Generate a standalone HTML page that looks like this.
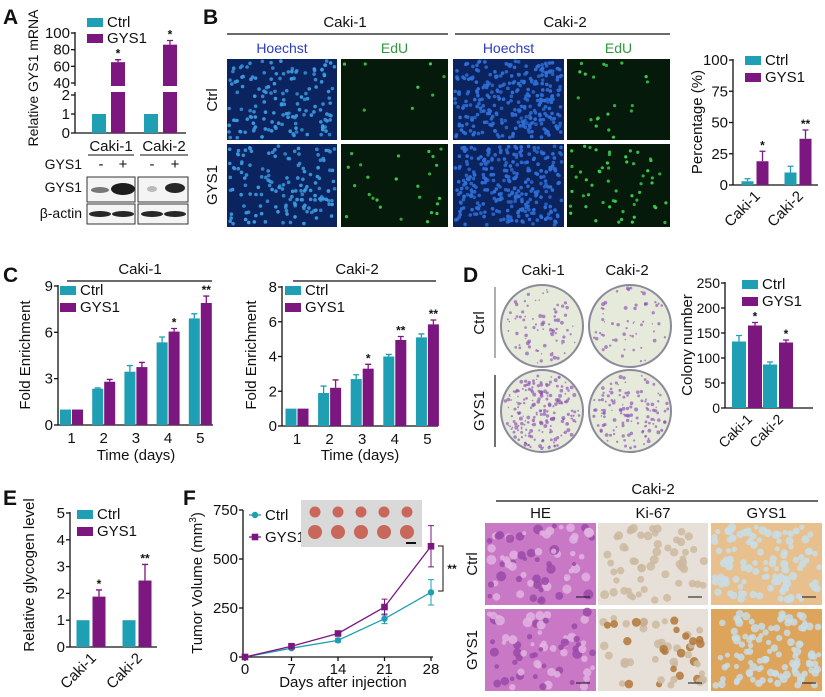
<!DOCTYPE html>
<html><head><meta charset="utf-8"><style>
html,body{margin:0;padding:0;background:#fff;}
svg{display:block;font-family:"Liberation Sans",Arial,sans-serif;}
text{fill:#111;}
</style></head><body>
<svg id="fig" width="825" height="697" viewBox="0 0 825 697" xmlns="http://www.w3.org/2000/svg">
<rect width="825" height="697" fill="#fff"/>
<g font-weight="bold" font-size="21">
<text x="3" y="24">A</text>
<text x="203" y="24">B</text>
<text x="3" y="282">C</text>
<text x="463" y="282">D</text>
<text x="3" y="505">E</text>
<text x="183" y="505">F</text>
</g>
<g id="layer"></g>
</svg>
<script>
// ---------- DATA ----------
const groupsAB = ['Caki-1','Caki-2'];
const aCtrl = [1, 1];
const aGys = [65, 86];
const aGysErr = [3, 5];
const aStars = ['*','*'];

const bCtrl = [3, 10];
const bGys = [19, 37];
const bCtrlErr = [2, 5];
const bGysErr = [8, 7];
const bStars = ['*','**'];
const bTicks = [0, 25, 50, 75, 100];

const cDays = ['1','2','3','4','5'];
const c1Ctrl = [1, 2.35, 3.45, 5.35, 6.9];
const c1Gys = [1, 2.8, 3.75, 6.05, 7.9];
const c1CtrlErr = [0, 0.05, 0.4, 0.35, 0.3];
const c1GysErr = [0, 0.15, 0.3, 0.2, 0.45];
const c1Stars = ['','','','*','**'];
const c1Ticks = [0, 3, 6, 9];

const c2Ctrl = [1, 1.9, 2.7, 4.0, 5.1];
const c2Gys = [1, 2.2, 3.3, 4.95, 5.85];
const c2CtrlErr = [0, 0.4, 0.25, 0.12, 0.2];
const c2GysErr = [0, 0.45, 0.25, 0.2, 0.25];
const c2Stars = ['','','*','**','**'];
const c2Ticks = [0, 2, 4, 6, 8];

const dCtrl = [133, 87];
const dGys = [165, 131];
const dCtrlErr = [12, 5];
const dGysErr = [6, 5];
const dStars = ['*','*'];
const dTicks = [0, 50, 100, 150, 200, 250];

const eCtrl = [1, 1];
const eGys = [1.88, 2.48];
const eCtrlErr = [0, 0];
const eGysErr = [0.25, 0.6];
const eStars = ['*','**'];
const eTicks = [0, 1, 2, 3, 4, 5];

const fDays = [0, 7, 14, 21, 28];
const fCtrl = [0, 45, 85, 195, 330];
const fGys = [0, 55, 120, 255, 565];
const fCtrlErr = [0, 5, 10, 25, 65];
const fGysErr = [0, 5, 8, 40, 105];
const fTicks = [0, 250, 500, 750];

// ---------- HELPERS ----------
const TEAL = '#1e9fb3', PURPLE = '#7c1780';
const NS = 'http://www.w3.org/2000/svg';
const layer = document.getElementById('layer');
function mk(tag, attrs, parent) {
  const el = document.createElementNS(NS, tag);
  for (const k in attrs) el.setAttribute(k, attrs[k]);
  (parent || layer).appendChild(el);
  return el;
}
function txt(x, y, s, size, anchor, parent, extra) {
  const el = mk('text', Object.assign({x: x, y: y, 'font-size': size, 'text-anchor': anchor || 'middle'}, extra || {}), parent);
  el.textContent = s;
  return el;
}
let seed = 7;
function rnd() { seed = (seed * 16807) % 2147483647; return seed / 2147483647; }

function yAxis(ax, yFn, ticks, y0, y1, size) {
  const l = mk('line', {x1: ax, y1: y0, x2: ax, y2: y1, stroke: '#111', 'stroke-width': 1.3});
  
  
  ticks.forEach(t => {
    const y = yFn(t);
    const tk = mk('line', {x1: ax - 4, y1: y, x2: ax, y2: y, stroke: '#111', 'stroke-width': 1.3});
    
    
    const lb = txt(ax - 5, y + 5, String(t), size || 15, 'end');
    
    
  });
}
function bar(x, w, yTop, yBase, color, err, yErr, name) {
  const r = mk('rect', {x: x, y: yTop, width: w, height: yBase - yTop, fill: color});
  
  
  if (err > 0) {
    const cx = x + w / 2;
    const e = mk('path', {d: `M${cx},${yTop}V${yErr}M${cx - 3},${yErr}H${cx + 3}`, stroke: color, 'stroke-width': 1.3, fill: 'none'});
    
    
  }
}
function star(x, y, s) {
  if (!s) return;
  const t = txt(x, y, s, 12, 'middle', null, {'font-weight': 'bold'});
  
  
}
function legend(x, y, gap, size) {
  const r1 = mk('rect', {x: x, y: y - 7, width: 16, height: 9, fill: TEAL});
  
  
  const t1 = txt(x + 20, y + 2, 'Ctrl', size || 15, 'start');
  
  
  const r2 = mk('rect', {x: x, y: y + gap - 7, width: 16, height: 9, fill: PURPLE});
  
  
  const t2 = txt(x + 20, y + gap + 2, 'GYS1', size || 15, 'start');
  
  
}
function vlabel(x, y, s, size) {
  const t = txt(x, y, s, size || 15, 'middle', null, {transform: `rotate(-90 ${x} ${y})`});
  
  
  return t;
}
function rotLabel(x, y, s, size) {
  const t = txt(x, y, s, size || 15, 'end', null, {transform: `rotate(-45 ${x} ${y})`});
  
  
}
function hline(x1, x2, y, w) {
  const l = mk('line', {x1: x1, y1: y, x2: x2, y2: y, stroke: '#111', 'stroke-width': w || 1.3});
  
  
  return l;
}

function groupedBars(o) {
  const yFn = v => o.base - v / o.vmax * (o.base - o.top);
  yAxis(o.ax, yFn, o.ticks, o.base, o.top - 1, o.fs);
  hline(o.ax, o.axEnd, o.base);
  o.ctrl.forEach((v, i) => {
    const cx = o.x0 + i * o.step;
    bar(cx - o.g / 2 - o.w, o.w, yFn(v), o.base, TEAL, o.ctrlErr[i], yFn(v + o.ctrlErr[i]), 'bar-ctrl-' + i);
    const g = o.gys[i];
    bar(cx + o.g / 2, o.w, yFn(g), o.base, PURPLE, o.gysErr[i], yFn(g + o.gysErr[i]), 'bar-gys1-' + i);
    star(cx + o.g / 2 + o.w / 2, yFn(g + o.gysErr[i]) - 2, o.stars[i]);
    if (o.labels) {
      if (o.rot) rotLabel(cx + 6, o.base + 12, o.labels[i], o.fs);
      else {
        const t = txt(cx, o.base + 18, o.labels[i], o.fs || 15);
        
        
      }
    }
  });
  return yFn;
}

// ---------- PANEL A ----------
(function () {
  const base = 133;
  const yA = v => v <= 2 ? base - v * 19 : 83 - (v - 40) * (50 / 60);
  yAxis(75, yA, [0, 1, 2, 40, 60, 80, 100], base, 32, 15);
  hline(75, 186, base);
  const centers = [109, 161];
  aCtrl.forEach((v, i) => {
    const cx = centers[i];
    bar(cx - 17, 14, yA(v), base, TEAL, 0, 0, 'bar-ctrl-' + i);
    bar(cx + 2, 14, yA(aGys[i]), base, PURPLE, aGysErr[i], yA(aGys[i] + aGysErr[i]), 'bar-gys1-' + i);
    star(cx + 9, yA(aGys[i] + aGysErr[i]) - 2, aStars[i]);
  });
  const gap = mk('rect', {x: 74, y: 86, width: 112, height: 6, fill: '#fff'});
  
  
  legend(87, 25, 16, 15);
  vlabel(38, 78, 'Relative GYS1 mRNA', 14);
  const cl1 = txt(111, 151, 'Caki-1', 15);  
  const cl2 = txt(164, 151, 'Caki-2', 15);  
  hline(88, 134, 155, 1); hline(140, 188, 155, 1);
  const g1 = txt(82, 169, 'GYS1', 14, 'end');  
  ['-', '+', '-', '+'].forEach((s, i) => {
    const t = txt([101, 123, 152, 175][i], 169, s, 15);
    
    
  });
  const rl1 = txt(82, 192, 'GYS1', 14, 'end');  
  const rl2 = txt(82, 218, 'β-actin', 14, 'end');  
  const boxes = [[87, 177, 48, 25], [138, 177, 50, 25], [87, 204, 48, 20], [138, 204, 50, 20]];
  boxes.forEach(b => {
    const r = mk('rect', {x: b[0], y: b[1], width: b[2], height: b[3], fill: '#f4f4f4', stroke: '#333', 'stroke-width': 1});
    
    
  });
  const bands = [[100, 190, 9, 3, 0.55], [123, 189, 12, 6, 0.95], [152, 189, 5, 3, 0.25], [175, 188, 10, 5, 0.9],
                 [100, 214, 11, 3, 0.9], [123, 214, 11, 3, 0.9], [152, 214, 11, 3, 0.9], [175, 214, 11, 3, 0.9]];
  bands.forEach(b => {
    const e = mk('ellipse', {cx: b[0], cy: b[1], rx: b[2], ry: b[3], fill: '#111', opacity: b[4]});
    
    
  });
})();

// ---------- PANEL B ----------
(function () {
  const heads = [[345, 27, 'Caki-1'], [565, 27, 'Caki-2']];
  heads.forEach(h => { const t = txt(h[0], h[1], h[2], 15);   });
  hline(227, 448, 34, 1.2); hline(455, 670, 34, 1.2);
  const cols = [[227, 110, 'Hoechst'], [341, 107, 'EdU'], [453, 111, 'Hoechst'], [567, 103, 'EdU']];
  const rows = [[59, 81], [144, 83]];
  cols.forEach((c, ci) => {
    const isH = c[2] === 'Hoechst';
    const t = txt(c[0] + c[1] / 2, 53, c[2], 14, 'middle', null, {style: 'fill:' + (isH ? '#2a3cc0' : '#2f9a3a')});
    
    
    rows.forEach((r, ri) => {
      const bg = mk('rect', {x: c[0], y: r[0], width: c[1], height: r[1], fill: isH ? '#0b2460' : '#061a0c'});
      
      
      const n = isH ? (ci === 2 ? 300 : 150) : (ri === 0 ? (ci === 1 ? 8 : 20) : (ci === 1 ? 25 : 55));
      for (let k = 0; k < n; k++) {
        const d = mk('circle', {cx: c[0] + 2 + rnd() * (c[1] - 4), cy: r[0] + 2 + rnd() * (r[1] - 4), r: isH ? 1.8 : 1.6,
          fill: isH ? (ci === 2 ? '#2f6fd8' : '#3c9be0') : '#3fd04f', opacity: 0.75 + rnd() * 0.25});
        
        
      }
    });
  });
  const rc = txt(217, 100, 'Ctrl', 15, 'middle', null, {transform: 'rotate(-90 217 100)'});
   
  const rg = txt(217, 185, 'GYS1', 15, 'middle', null, {transform: 'rotate(-90 217 185)'});
   

  groupedBars({ax: 733, base: 185, top: 60, vmax: 100, ticks: bTicks, axEnd: 818, x0: 755, step: 43, w: 12, g: 3,
    ctrl: bCtrl, gys: bGys, ctrlErr: bCtrlErr, gysErr: bGysErr, stars: bStars, labels: groupsAB, rot: true, fs: 15});
  legend(745, 63, 17, 15);
  vlabel(702, 122, 'Percentage (%)', 15);
})();

// ---------- PANEL C ----------
(function () {
  const t1 = txt(140, 274, 'Caki-1', 15);  
  hline(67, 212, 281, 1.2);
  groupedBars({ax: 58, base: 425, top: 286, vmax: 9, ticks: c1Ticks, axEnd: 213, x0: 71.5, step: 32.2, w: 11, g: 1,
    ctrl: c1Ctrl, gys: c1Gys, ctrlErr: c1CtrlErr, gysErr: c1GysErr, stars: c1Stars, labels: cDays, fs: 15});
  legend(60, 293, 17, 15);
  vlabel(30, 355, 'Fold Enrichment', 15);
  const x1 = txt(136, 460, 'Time (days)', 15);  

  const t2 = txt(357, 274, 'Caki-2', 15);  
  hline(293, 436, 281, 1.2);
  groupedBars({ax: 282, base: 426, top: 287, vmax: 8, ticks: c2Ticks, axEnd: 438, x0: 297, step: 32.6, w: 11, g: 1,
    ctrl: c2Ctrl, gys: c2Gys, ctrlErr: c2CtrlErr, gysErr: c2GysErr, stars: c2Stars, labels: cDays, fs: 15});
  legend(285, 293, 17, 15);
  vlabel(256, 355, 'Fold Enrichment', 15);
  const x2 = txt(360, 460, 'Time (days)', 15);  
})();

// ---------- PANEL D ----------
(function () {
  const h1 = txt(543, 275, 'Caki-1', 15);  
  const h2 = txt(627, 275, 'Caki-2', 15);  
  const vl1 = mk('line', {x1: 495, y1: 287, x2: 495, y2: 358, stroke: '#777', 'stroke-width': 1.2});
   
  const vl2 = mk('line', {x1: 495, y1: 375, x2: 495, y2: 447, stroke: '#111', 'stroke-width': 1.2});
   
  const rc = txt(484, 323, 'Ctrl', 15, 'middle', null, {transform: 'rotate(-90 484 323)'});
   
  const rg = txt(484, 411, 'GYS1', 15, 'middle', null, {transform: 'rotate(-90 484 411)'});
   
  const plates = [[542, 326, 80], [630, 326, 60], [542, 411, 200], [630, 411, 130]];
  plates.forEach(p => {
    const c = mk('circle', {cx: p[0], cy: p[1], r: 41, fill: '#e6eadb', stroke: '#8a8a9a', 'stroke-width': 2});
    
    
    for (let k = 0; k < p[2]; k++) {
      const a = rnd() * Math.PI * 2, rr = Math.sqrt(rnd()) * 38;
      const d = mk('circle', {cx: p[0] + Math.cos(a) * rr, cy: p[1] + Math.sin(a) * rr, r: 0.7 + rnd() * 1.3, fill: '#8b4fb0', opacity: 0.65});
      
      
    }
  });
  groupedBars({ax: 725, base: 408, top: 283, vmax: 250, ticks: dTicks, axEnd: 813, x0: 747, step: 31, w: 14, g: 2,
    ctrl: dCtrl, gys: dGys, ctrlErr: dCtrlErr, gysErr: dGysErr, stars: dStars, labels: groupsAB, rot: true, fs: 14});
  legend(742, 287, 17, 15);
  vlabel(692, 345, 'Colony number', 15);
})();

// ---------- PANEL E ----------
(function () {
  groupedBars({ax: 70, base: 647, top: 513, vmax: 5, ticks: eTicks, axEnd: 157, x0: 91, step: 46, w: 13, g: 3,
    ctrl: eCtrl, gys: eGys, ctrlErr: eCtrlErr, gysErr: eGysErr, stars: eStars, labels: groupsAB, rot: true, fs: 15});
  legend(77, 517, 17, 15);
  vlabel(34, 575, 'Relative glycogen level', 15);
})();

// ---------- PANEL F ----------
(function () {
  const ax = 243, base = 657, top = 510, x0 = 245, x1 = 431;
  const yF = v => base - v / 750 * (base - top);
  const xF = d => x0 + d / 28 * (x1 - x0);
  yAxis(ax, yF, fTicks, base, top, 15);
  hline(ax, 433, base);
  fDays.forEach(d => {
    const tk = mk('line', {x1: xF(d), y1: base, x2: xF(d), y2: base + 4, stroke: '#111', 'stroke-width': 1.3});
    
    
    const t = txt(xF(d), base + 17, String(d), 15);
    
    
  });
  const xt = txt(343, 687, 'Days after injection', 15);  
  const yt = txt(202, 583, 'Tumor Volume (mm', 15, 'middle', null, {transform: 'rotate(-90 202 583)'});
   
  const ts = mk('tspan', {'font-size': 10, dy: -6}, yt); ts.textContent = '3';
  const ts2 = mk('tspan', {dy: 6}, yt); ts2.textContent = ')';
  [[fCtrl, fCtrlErr, TEAL, 'ctrl'], [fGys, fGysErr, PURPLE, 'gys1']].forEach(s => {
    const pts = fDays.map((d, i) => xF(d) + ',' + yF(s[0][i])).join(' ');
    const pl = mk('polyline', {points: pts, fill: 'none', stroke: s[2], 'stroke-width': 1.3});
    
    
    fDays.forEach((d, i) => {
      const x = xF(d), v = s[0][i], e = s[1][i];
      if (e > 0) {
        const eb = mk('path', {d: `M${x},${yF(v - e)}V${yF(v + e)}M${x - 3},${yF(v - e)}H${x + 3}M${x - 3},${yF(v + e)}H${x + 3}`, stroke: s[2], 'stroke-width': 1, fill: 'none'});
        
        
      }
      let m;
      if (s[3] === 'ctrl') m = mk('circle', {cx: x, cy: yF(v), r: 3.2, fill: s[2]});
      else m = mk('rect', {x: x - 3.3, y: yF(v) - 3.3, width: 6.6, height: 6.6, fill: s[2]});
      
      
    });
  });
  const lc = mk('line', {x1: 249, y1: 515, x2: 261, y2: 515, stroke: TEAL, 'stroke-width': 1.3});
   
  const lcm = mk('circle', {cx: 255, cy: 515, r: 3.2, fill: TEAL});
   
  const lct = txt(265, 520, 'Ctrl', 15, 'start');  
  const lg = mk('line', {x1: 249, y1: 537, x2: 261, y2: 537, stroke: PURPLE, 'stroke-width': 1.3});
   
  const lgm = mk('rect', {x: 251.7, y: 533.7, width: 6.6, height: 6.6, fill: PURPLE});
   
  const lgt = txt(265, 542, 'GYS1', 15, 'start');  
  const ph = mk('rect', {x: 301, y: 500, width: 121, height: 47, fill: '#d9d9d9'});
   
  for (let r = 0; r < 2; r++) for (let c = 0; c < 5; c++) {
    const tm = mk('ellipse', {cx: 315 + c * 23, cy: 512 + r * 20, rx: r ? 7 : 5.5, ry: r ? 7 : 5.5, fill: '#c8675a'});
     
  }
  const sb = mk('line', {x1: 406, y1: 543, x2: 416, y2: 543, stroke: '#111', 'stroke-width': 2});
   
  const br = mk('path', {d: 'M438,546H443V591H438', fill: 'none', stroke: '#111', 'stroke-width': 1});
   
  star(452, 573, '**');
})();

// ---------- PANEL G (IHC) ----------
(function () {
  const t = txt(653, 494, 'Caki-2', 15);  
  hline(496, 818, 501, 1.2);
  const cols = [[485, 111, 'HE'], [598, 110, 'Ki-67'], [711, 111, 'GYS1']];
  const rows = [[523, 82], [609, 82]];
  cols.forEach((c, ci) => {
    const h = txt(c[0] + c[1] / 2, 518, c[2], 15);  
    rows.forEach((r, ri) => {
      const bgc = ci === 0 ? '#c978c6' : ci === 1 ? '#e6e0d8' : (ri ? '#dda45c' : '#e7c08e');
      const bg = mk('rect', {x: c[0], y: r[0], width: c[1], height: r[1], fill: bgc});
       
      const n = ci === 0 ? 70 : ci === 1 ? 55 : 110;
      for (let k = 0; k < n; k++) {
        let fill, rr;
        if (ci === 0) { fill = rnd() < 0.5 ? '#9a4aa8' : '#e2b3e0'; rr = 2 + rnd() * 3; }
        else if (ci === 1) { fill = ri && rnd() < 0.4 ? '#b2773a' : '#cdb9a0'; rr = 3 + rnd() * 1.5; }
        else { fill = '#c9dde6'; rr = 2.5 + rnd() * 1.8; }
        const d = mk('circle', {cx: c[0] + 3 + rnd() * (c[1] - 6), cy: r[0] + 3 + rnd() * (r[1] - 6), r: rr, fill: fill, opacity: 0.85});
        
        
      }
      const s = mk('line', {x1: c[0] + c[1] - 20, y1: r[0] + r[1] - 8, x2: c[0] + c[1] - 6, y2: r[0] + r[1] - 8, stroke: '#111', 'stroke-width': 1});
       
    });
  });
  const rc = txt(477, 564, 'Ctrl', 15, 'middle', null, {transform: 'rotate(-90 477 564)'});
   
  const rg = txt(477, 650, 'GYS1', 15, 'middle', null, {transform: 'rotate(-90 477 650)'});
   
})();
</script>
</body></html>
